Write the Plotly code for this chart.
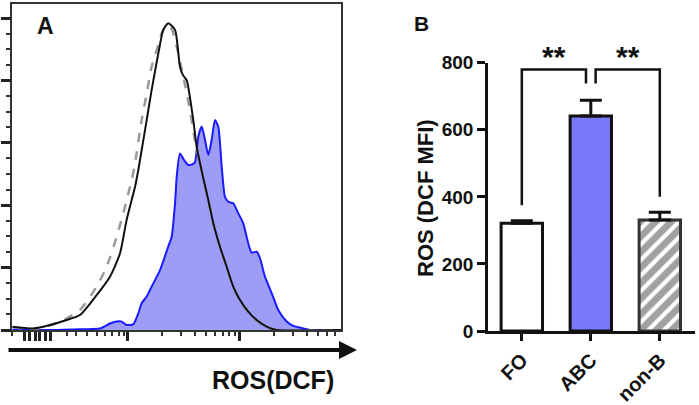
import plotly.graph_objects as go

# ---- panel A: DCF histograms (x in display channel units of the biex/log axis,
# y in % of max) ----
abc_x = [1.967, 2.304, 2.512, 2.75, 2.839, 2.899, 2.944, 2.988, 3.048, 3.092, 3.122,
         3.167, 3.211, 3.286, 3.359, 3.39, 3.42, 3.435, 3.464, 3.5, 3.538, 3.577,
         3.598, 3.628, 3.658, 3.688, 3.717, 3.747, 3.777, 3.806, 3.837, 3.866,
         3.896, 3.94, 3.985, 4.029, 4.074, 4.104, 4.149, 4.179, 4.223, 4.283,
         4.342, 4.417, 4.476, 4.565, 4.625, 4.902]
abc_y = [0.2, 0, 0.2, 0.5, 2.1, 2.7, 2.7, 1.6, 1.9, 5.3, 8.6,
         10.7, 13.9, 19.2, 26.7, 29.9, 40.6, 49.1, 56.6, 54.5, 52.9, 53.2,
         53.8, 62.0, 65.2, 60.9, 56.1, 60.9, 67.3, 65.2, 52.3, 42.7,
         41.1, 40.6, 37.4, 34.2, 27.8, 24.8, 25.1, 23.0, 17.1, 11.8,
         6.4, 2.7, 1.3, 0.5, 0, 0]

fo_x = [1.967, 2.155, 2.304, 2.452, 2.571, 2.72, 2.839, 2.929, 2.988, 3.063, 3.092,
        3.167, 3.211, 3.271, 3.315, 3.36, 3.42, 3.464, 3.491, 3.524, 3.583, 3.613,
        3.673, 3.717, 3.762, 3.821, 3.881, 3.94, 4.0, 4.074, 4.149, 4.238, 4.327, 4.902]
fo_y = [1.07, 0.5, 1.6, 3.2, 4.8, 11.2, 17.1, 24.6, 35.3, 45.9, 51.3,
        67.3, 76.9, 88.7, 96.2, 98.3, 96.2, 84.4, 81.7, 80.1, 67.3, 58.8,
        48.6, 41.7, 34.2, 26.7, 20.3, 13.9, 9.6, 5.9, 3.2, 1.1, 0, 0]

nb_x = [1.967, 2.08, 2.214, 2.393, 2.571, 2.72, 2.81, 2.899, 2.973, 3.033, 3.063,
        3.122, 3.167, 3.211, 3.256, 3.301, 3.345, 3.39, 3.435, 3.494, 3.554, 3.598,
        3.673, 3.717, 3.762, 3.821, 3.881, 3.94, 4.0, 4.074, 4.149, 4.238, 4.327, 4.902]
nb_y = [1.0, 0.3, 0.6, 2.6, 6.4, 13.9, 20.3, 29.9, 39.5, 48.1, 53.4,
        67.3, 75.8, 84.4, 89.7, 95.1, 97.8, 96.5, 90.8, 81.2, 70.5, 60.9,
        48.3, 41.5, 34.0, 26.5, 20.0, 13.7, 9.4, 5.7, 3.0, 1.0, 0, 0]

# axis ticks of the DCF scale (no labels on the original)
ros_major = [2.074, 2.125, 2.17, 2.214, 2.259, 2.3125, 3.0, 4.0]
ros_minor = [1.967, 2.455, 2.536, 2.634, 2.723, 2.795, 2.857, 2.92, 2.964,
             3.301, 3.477, 3.602, 3.699, 3.778, 3.845, 3.903, 3.954,
             4.301, 4.477, 4.602, 4.699, 4.778, 4.845, 4.903]

# ---- panel B: ROS MFI bars ----
groups = ["FO", "ABC", "non-B"]
mfi = [321, 641, 331]
mfi_err = [8, 47, 23]
# significance brackets: (left idx, right idx, top, left leg end, right leg end)
brackets = [(0, 1, 780, 375, 738), (1, 2, 780, 738, 400)]
stars = ["**", "**"]

W, H = 699, 405
BLACK = "#111111"
fig = go.Figure()

fig.add_trace(go.Scatter(x=abc_x, y=abc_y, mode="lines", fill="tozeroy",
                         fillcolor="rgba(140,140,245,0.85)",
                         line=dict(color="#1a1aff", width=2, shape="spline", smoothing=0.6),
                         xaxis="x", yaxis="y", showlegend=False))
fig.add_trace(go.Scatter(x=nb_x, y=nb_y, mode="lines",
                         line=dict(color="#9a9a9a", width=2.5, dash="dash",
                                   shape="spline", smoothing=0.6),
                         xaxis="x", yaxis="y", showlegend=False))
fig.add_trace(go.Scatter(x=fo_x, y=fo_y, mode="lines",
                         line=dict(color=BLACK, width=2, shape="spline", smoothing=0.6),
                         xaxis="x", yaxis="y", showlegend=False))

fig.add_trace(go.Bar(
    x=list(range(len(groups))), y=mfi, width=0.6,
    marker=dict(color=["white", "#7878fa", "white"],
                line=dict(color=[BLACK, BLACK, "#333333"], width=3),
                pattern=dict(shape=["", "", "/"], fgcolor="#111111", size=11,
                             solidity=0.62)),
    error_y=dict(type="data", symmetric=False, array=mfi_err,
                 arrayminus=[0] * len(mfi), color=BLACK, thickness=3, width=11),
    xaxis="x2", yaxis="y2", showlegend=False))


def label(x, y, text, size, xref="paper", **kw):
    fig.add_annotation(x=x, y=y, xref=xref, yref="paper", text=text, showarrow=False,
                       xanchor="center", yanchor="middle",
                       font=dict(size=size, color=BLACK, weight="bold"), **kw)


gap = 0.07
for (i, j, top, l_end, r_end), s in zip(brackets, stars):
    xl = i + (gap if i == 1 else 0)
    xr = j - (gap if j == 1 else 0)
    fig.add_shape(type="path", xref="x2", yref="y2",
                  path=f"M {xl} {l_end} L {xl} {top} L {xr} {top} L {xr} {r_end}",
                  line=dict(color=BLACK, width=2.5))
    label((xl + xr) / 2, 1 - 56 / H, s, 30, xref="x2")

# panel labels, arrow, axis captions
label(45 / W, 1 - 26 / H, "A", 23)
label(421.5 / W, 1 - 24 / H, "B", 21)
fig.add_annotation(x=357 / W, y=1 - 350 / H, xref="paper", yref="paper", text="",
                   showarrow=True, ax=-350, ay=0, arrowhead=2, arrowsize=0.9,
                   arrowwidth=4, arrowcolor=BLACK)
label(273 / W, 1 - 380 / H, "ROS(DCF)", 25)
label(425 / W, 1 - 198 / H, "ROS (DCF MFI)", 22, textangle=-90)

frame = dict(showline=True, linecolor="#333333", linewidth=1.5, mirror=True,
             showgrid=False, zeroline=False, showticklabels=False, automargin=False)
fig.update_layout(
    width=W, height=H, margin=dict(l=0, r=0, t=0, b=0, pad=0, autoexpand=False),
    paper_bgcolor="white", plot_bgcolor="white",
    font=dict(family="Liberation Sans, Arial, sans-serif", color=BLACK),
    xaxis=dict(domain=[12.3 / W, 341 / W], range=[1.967, 4.902],
               tickmode="array", tickvals=ros_major, ticks="outside", ticklen=9,
               tickwidth=2.5, tickcolor="#222222",
               minor=dict(tickmode="array", tickvals=ros_minor, ticks="outside",
                          ticklen=4, tickwidth=1.5, tickcolor="#333333"),
               **frame),
    yaxis=dict(domain=[1 - 330 / H, 1 - 4 / H], range=[0, 104.5],
               tickmode="array", tickvals=[0, 20, 40, 60, 80, 100], ticks="outside",
               ticklen=10, tickwidth=2.5, tickcolor="#222222",
               minor=dict(dtick=5, ticks="outside", ticklen=5, tickwidth=1.5,
                          tickcolor="#333333"),
               **frame),
    xaxis2=dict(domain=[488 / W, 695 / W], range=[-0.49, 2.51],
                tickmode="array", tickvals=list(range(len(groups))), ticktext=groups,
                tickangle=-45, ticks="outside", ticklen=7, tickwidth=2.5,
                tickcolor=BLACK, showline=True, linecolor=BLACK, linewidth=2.5,
                showgrid=False, zeroline=False, automargin=False,
                tickfont=dict(size=20, color=BLACK, weight="bold"), anchor="y2"),
    yaxis2=dict(domain=[1 - 331 / H, 1 - 62.7 / H], range=[0, 800],
                tickmode="array", tickvals=[0, 200, 400, 600, 800],
                ticks="outside", ticklen=8, tickwidth=2.5, tickcolor=BLACK,
                showline=True, linecolor=BLACK, linewidth=2.5, showgrid=False,
                zeroline=False, automargin=False,
                tickfont=dict(size=19, color=BLACK, weight="bold"), anchor="x2"),
)

# the page body has a default 8px margin; drop it so the figure fills the window
fig.write_html("out.html", config={"displayModeBar": False},
               post_script="document.body.style.margin='0px';")
